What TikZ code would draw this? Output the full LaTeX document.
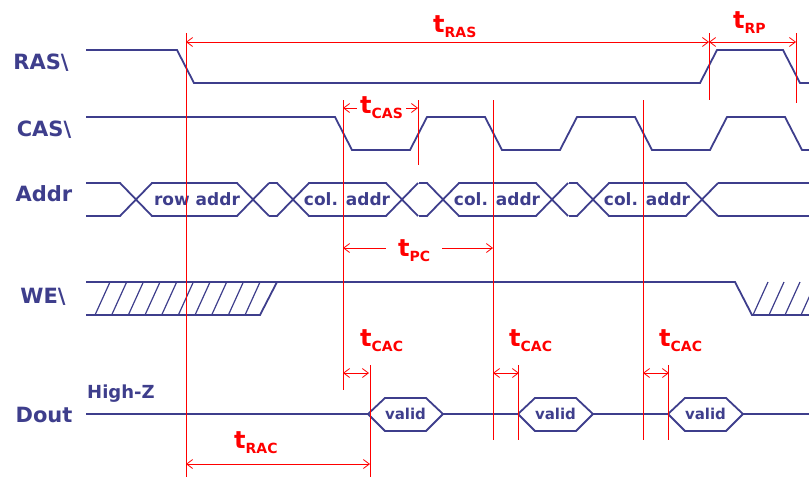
\documentclass[tikz,border=0pt]{standalone}
\usepackage{fontspec}
\setmainfont{DejaVu Sans}
\usetikzlibrary{arrows.meta}

\definecolor{sigblue}{RGB}{62,62,140}
\newcommand{\tname}[1]{{\fontsize{24}{24}\selectfont t}\raisebox{-5pt}{\fontsize{14}{14}\selectfont #1}}

\begin{document}
\begin{tikzpicture}[x=1pt,y=-1pt,
	sig/.style={sigblue, line width=1.8pt},
	hatch/.style={sigblue, line width=1.2pt},
	marker/.style={red, line width=0.8pt},
	dim/.style={red, line width=0.8pt, {Straight Barb[length=6pt,width=9pt]}-{Straight Barb[length=6pt,width=9pt]}},
	tlabel/.style={red, font=\bfseries, inner sep=0pt, anchor=base west},
	signame/.style={sigblue, font=\fontsize{21}{21}\selectfont\bfseries, anchor=base},
	buslabel/.style={sigblue, font=\fontsize{17}{17}\selectfont\bfseries, inner sep=0pt}]
	\newcommand{\slopeW}{17}
	\newcommand{\hatchStep}{16.67}
	
	\useasboundingbox (0,0) rectangle (809,477);
	
	% signal names
	\node[signame] (ras) at (41,69) {RAS\textbackslash};
	\node[signame] (cas) at (44,136) {CAS\textbackslash};
	\node[signame] (addr) at (44,201) {Addr};
	\node[signame] (we) at (43,303) {WE\textbackslash};
	\node[signame] (dout) at (44,422) {Dout};
	
	% RAS\
	\draw[sig] (86,50) -- (177,50) -- (177+\slopeW,83) -- (700,83) -- (700+\slopeW,50) -- (783,50) -- (783+\slopeW,83) -- (809,83);
	
	% CAS\ (three pulses)
	\draw[sig] (86,117) -- (335,117) -- (335+\slopeW,150)
		foreach \x in {410,560,710}{ -- (\x,150) -- (\x+\slopeW,117) -- (\x+75,117) -- (\x+75+\slopeW,150)} -- (809,150);
	
	% Addr bus, row part
	\draw[sig] (86,183) -- (120,183) -- (152,216) -- (237,216) -- (269,183);
	\draw[sig] (86,216) -- (120,216) -- (152,183) -- (237,183) -- (269,216);
	\node[buslabel] (row) at (197,199) {row addr};
	% col parts
	\foreach \x in {293,443,593}{
		\draw[sig] (\x-24,183) -- (\x-16,183) -- (\x+16,216) -- (\x+93,216) -- (\x+125,183);
		\draw[sig] (\x-24,216) -- (\x-16,216) -- (\x+16,183) -- (\x+93,183) -- (\x+125,216);
		\node[buslabel] (col\x) at (\x+54,199) {col. addr};
	}
	\draw[sig] (718,183) -- (809,183) (718,216) -- (809,216);
	
	% WE\
	\draw[sig] (86,282) -- (735,282) -- (735+\slopeW,315) -- (809,315);
	\draw[sig] (86,315) -- (260,315) -- (260+\slopeW,282);
	\foreach \k in {0,...,9} \draw[hatch] (95+\hatchStep*\k,315) -- ++(15,-33);
	\foreach \k in {0,...,3} \draw[hatch] (753+16*\k,315) -- ++(15,-33);
	
	% Dout
	\node[buslabel, font=\fontsize{18}{18}\selectfont\bfseries, anchor=base west] (highz) at (87,398) {High-Z};
	\draw[sig, line width=2.8pt] (86,414) -- (368,414);
	\foreach \x in {368,518,668}{
		\draw[sig] (\x,414) -- (\x+\slopeW,398) -- (\x+58,398) -- (\x+75,414) -- (\x+58,431) -- (\x+\slopeW,431) -- cycle;
		\node[buslabel, font=\fontsize{15}{15}\selectfont\bfseries] (valid\x) at (\x+37.5,414) {valid};
	}
	\draw[sig, line width=2.8pt] (443,414) -- (518,414) (593,414) -- (668,414) (743,414) -- (809,414);
	
	% timing marker lines
	\draw[marker] (186,33) -- (186,477);
	\draw[marker] (343,100) -- (343,390);
	\draw[marker] (418,100) -- (418,165);
	\draw[marker] (493,100) -- (493,440);
	\draw[marker] (643,100) -- (643,440);
	\draw[marker] (709,33) -- (709,100);
	\draw[marker] (796,33) -- (796,103);
	\draw[marker] (370,365) -- (370,477);
	\draw[marker] (518,365) -- (518,440);
	\draw[marker] (668,365) -- (668,440);
	
	% arrow ends
	\coordinate (rasA) at (186,42);
	\coordinate (rasB) at (709,42);
	\coordinate (rpB) at (796,42);
	\coordinate (casA) at (343,108);
	\coordinate (casB) at (418,108);
	\coordinate (pcA) at (343,248);
	\coordinate (pcB) at (493,248);
	\coordinate (racA) at (186,464);
	\coordinate (racB) at (370,464);
	
	\draw[dim] (rasA) -- (rasB);
	\draw[dim] (rasB) -- (rpB);
	\draw[dim] (casA) -- (casB);
	\draw[dim] (pcA) -- (pcB);
	\draw[dim] (racA) -- (racB);
	\foreach \x in {343,493,643}{
		\coordinate (cacA\x) at (\x,373);
		\coordinate (cacB\x) at (\x+26,373);
		\draw[dim] (cacA\x) -- (cacB\x);
	}
	
	% timing names
	\node[tlabel] (tras) at (433,32) {\tname{RAS}};
	\node[tlabel] (trp) at (733,28) {\tname{RP}};
	\node[tlabel, fill=white, inner xsep=3pt] (tcas) at (357,113) {\tname{CAS}};
	\node[tlabel, fill=white, inner xsep=12pt] (tpc) at (386,256) {\tname{PC}};
	\node[tlabel] (tcac1) at (360,346) {\tname{CAC}};
	\node[tlabel] (tcac2) at (509,346) {\tname{CAC}};
	\node[tlabel] (tcac3) at (659,346) {\tname{CAC}};
	\node[tlabel] (trac) at (234,448) {\tname{RAC}};
\end{tikzpicture}
\end{document}
